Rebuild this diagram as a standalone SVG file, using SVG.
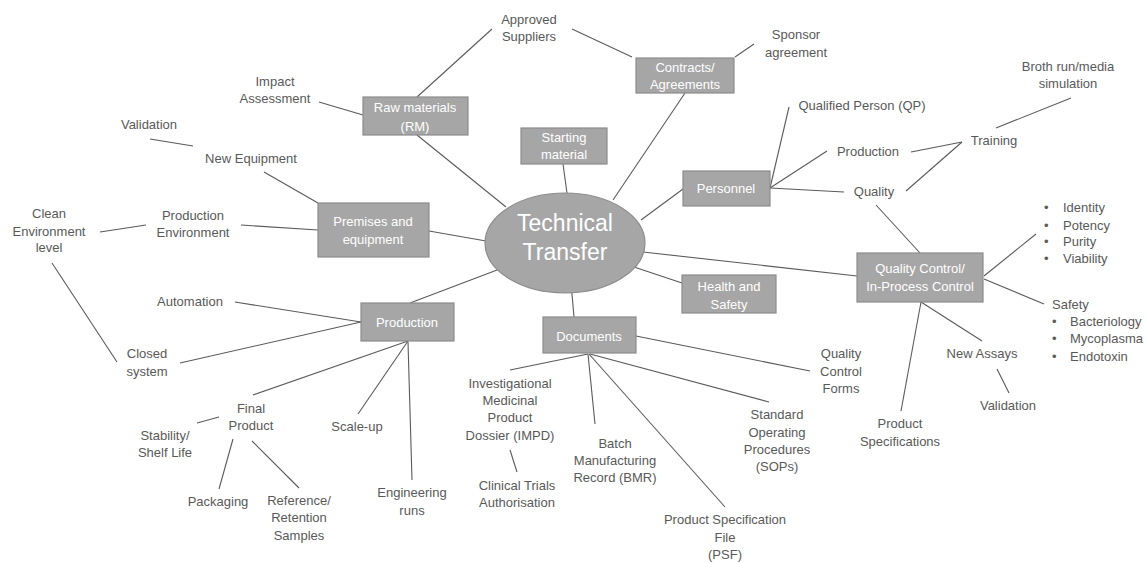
<svg xmlns="http://www.w3.org/2000/svg" width="1146" height="563" viewBox="0 0 1146 563">
<style>
.l{stroke:#5a5a5a;stroke-width:1.1;fill:none}
.b{fill:#a6a6a6;stroke:#8c8c8c;stroke-width:1.2}
.bt{font-family:"Liberation Sans",Arial,sans-serif;font-size:13px;fill:#ffffff;text-anchor:middle}
.t{font-family:"Liberation Sans",Arial,sans-serif;font-size:13px;fill:#595959;text-anchor:middle}
.ts{font-family:"Liberation Sans",Arial,sans-serif;font-size:13px;fill:#595959}
.ct{font-family:"Liberation Sans",Arial,sans-serif;font-size:23px;fill:#ffffff;text-anchor:middle}
</style>
<rect width="1146" height="563" fill="#ffffff"/>
<g id="connectors">
<line class="l" x1="319" y1="102" x2="363" y2="115"/>
<line class="l" x1="150" y1="139" x2="193" y2="146"/>
<line class="l" x1="264" y1="172" x2="318" y2="203"/>
<line class="l" x1="100" y1="232" x2="146" y2="225"/>
<line class="l" x1="241" y1="225" x2="318" y2="230"/>
<line class="l" x1="52" y1="263" x2="117" y2="362"/>
<line class="l" x1="492" y1="29" x2="417" y2="97"/>
<line class="l" x1="572" y1="29" x2="632" y2="57"/>
<line class="l" x1="735" y1="57" x2="754" y2="44"/>
<line class="l" x1="417" y1="135" x2="506" y2="207"/>
<line class="l" x1="563" y1="164" x2="567" y2="193"/>
<line class="l" x1="685" y1="93" x2="613" y2="200"/>
<line class="l" x1="683" y1="189" x2="641" y2="220"/>
<line class="l" x1="429" y1="231" x2="486" y2="241"/>
<line class="l" x1="643" y1="252" x2="857" y2="276"/>
<line class="l" x1="628" y1="265" x2="682" y2="283"/>
<line class="l" x1="505" y1="267" x2="410" y2="303"/>
<line class="l" x1="571" y1="283" x2="574" y2="317"/>
<line class="l" x1="770" y1="188" x2="789" y2="107"/>
<line class="l" x1="770" y1="188" x2="827" y2="151"/>
<line class="l" x1="770" y1="188" x2="844" y2="192"/>
<line class="l" x1="911" y1="152" x2="962" y2="142"/>
<line class="l" x1="906" y1="191" x2="962" y2="142"/>
<line class="l" x1="996" y1="128" x2="1071" y2="98"/>
<line class="l" x1="876" y1="205" x2="920" y2="253"/>
<line class="l" x1="984" y1="276" x2="1036" y2="234"/>
<line class="l" x1="984" y1="279" x2="1044" y2="304"/>
<line class="l" x1="921" y1="302" x2="982" y2="341"/>
<line class="l" x1="921" y1="302" x2="901" y2="411"/>
<line class="l" x1="997" y1="369" x2="1009" y2="393"/>
<line class="l" x1="636" y1="336" x2="810" y2="371"/>
<line class="l" x1="588" y1="354" x2="510" y2="370"/>
<line class="l" x1="588" y1="354" x2="595" y2="424"/>
<line class="l" x1="589" y1="354" x2="725" y2="507"/>
<line class="l" x1="590" y1="354" x2="769" y2="402"/>
<line class="l" x1="510" y1="450" x2="517" y2="472"/>
<line class="l" x1="408" y1="342" x2="412" y2="480"/>
<line class="l" x1="235" y1="302" x2="361" y2="322"/>
<line class="l" x1="180" y1="363" x2="361" y2="322"/>
<line class="l" x1="253" y1="395" x2="408" y2="341"/>
<line class="l" x1="358" y1="414" x2="408" y2="341"/>
<line class="l" x1="197" y1="423" x2="219" y2="417"/>
<line class="l" x1="233" y1="439" x2="219" y2="489"/>
<line class="l" x1="252" y1="441" x2="299" y2="488"/>
</g>
<g id="technical-transfer">
<ellipse cx="565" cy="243" rx="80" ry="50" fill="#a6a6a6" stroke="#8c8c8c" stroke-width="1.2"/>
<text class="ct" x="565" y="231">Technical</text>
<text class="ct" x="565" y="260">Transfer</text>
</g>
<g id="raw-materials">
<rect class="b" x="363" y="97" width="105" height="38"/>
<text class="bt" x="415" y="112">Raw materials</text>
<text class="bt" x="415" y="131">(RM)</text>
</g>
<g id="contracts">
<rect class="b" x="636" y="58" width="98" height="35"/>
<text class="bt" x="685" y="72">Contracts/</text>
<text class="bt" x="685" y="89">Agreements</text>
</g>
<g id="starting-material">
<rect class="b" x="521" y="128" width="86" height="36"/>
<text class="bt" x="564" y="142">Starting</text>
<text class="bt" x="564" y="159">material</text>
</g>
<g id="personnel">
<rect class="b" x="683" y="171" width="87" height="35"/>
<text class="bt" x="726" y="193">Personnel</text>
</g>
<g id="premises">
<rect class="b" x="318" y="203" width="111" height="54"/>
<text class="bt" x="373" y="226">Premises and</text>
<text class="bt" x="373" y="244">equipment</text>
</g>
<g id="health-safety">
<rect class="b" x="682" y="275" width="94" height="38"/>
<text class="bt" x="729" y="291">Health and</text>
<text class="bt" x="729" y="309">Safety</text>
</g>
<g id="production">
<rect class="b" x="361" y="303" width="93" height="38"/>
<text class="bt" x="407" y="327">Production</text>
</g>
<g id="documents">
<rect class="b" x="543" y="317" width="93" height="36"/>
<text class="bt" x="589" y="341">Documents</text>
</g>
<g id="quality-control">
<rect class="b" x="857" y="253" width="126" height="49"/>
<text class="bt" x="920" y="273">Quality Control/</text>
<text class="bt" x="920" y="291">In-Process Control</text>
</g>
<g id="approved-suppliers"><text class="t" x="529" y="24">Approved</text><text class="t" x="529" y="41">Suppliers</text></g>
<g id="sponsor-agreement"><text class="t" x="796" y="39">Sponsor</text><text class="t" x="796" y="57">agreement</text></g>
<g id="impact-assessment"><text class="t" x="275" y="86">Impact</text><text class="t" x="275" y="103">Assessment</text></g>
<g id="validation-equipment"><text class="t" x="149" y="129">Validation</text></g>
<g id="new-equipment"><text class="t" x="251" y="163">New Equipment</text></g>
<g id="clean-environment"><text class="t" x="49" y="218">Clean</text><text class="t" x="49" y="236">Environment</text><text class="t" x="49" y="252">level</text></g>
<g id="production-environment"><text class="t" x="193" y="220">Production</text><text class="t" x="193" y="237">Environment</text></g>
<g id="broth-run"><text class="t" x="1068" y="71">Broth run/media</text><text class="t" x="1068" y="88">simulation</text></g>
<g id="qualified-person"><text class="t" x="862" y="110">Qualified Person (QP)</text></g>
<g id="production-personnel"><text class="t" x="868" y="156">Production</text></g>
<g id="training"><text class="t" x="994" y="145">Training</text></g>
<g id="quality-personnel"><text class="t" x="874" y="196">Quality</text></g>
<g id="identity-list">
<text class="ts" x="1044" y="212">•</text><text class="ts" x="1063" y="212">Identity</text>
<text class="ts" x="1044" y="230">•</text><text class="ts" x="1063" y="230">Potency</text>
<text class="ts" x="1044" y="246">•</text><text class="ts" x="1063" y="246">Purity</text>
<text class="ts" x="1044" y="263">•</text><text class="ts" x="1063" y="263">Viability</text>
</g>
<g id="safety-list">
<text class="ts" x="1052" y="309">Safety</text>
<text class="ts" x="1052" y="326">•</text><text class="ts" x="1070" y="326">Bacteriology</text>
<text class="ts" x="1052" y="343">•</text><text class="ts" x="1070" y="343">Mycoplasma</text>
<text class="ts" x="1052" y="361">•</text><text class="ts" x="1070" y="361">Endotoxin</text>
</g>
<g id="qc-forms"><text class="t" x="841" y="358">Quality</text><text class="t" x="841" y="376">Control</text><text class="t" x="841" y="393">Forms</text></g>
<g id="new-assays"><text class="t" x="982" y="358">New Assays</text></g>
<g id="validation-qc"><text class="t" x="1008" y="410">Validation</text></g>
<g id="product-specifications"><text class="t" x="900" y="428">Product</text><text class="t" x="900" y="446">Specifications</text></g>
<g id="sops"><text class="t" x="777" y="419">Standard</text><text class="t" x="777" y="437">Operating</text><text class="t" x="777" y="454">Procedures</text><text class="t" x="777" y="471">(SOPs)</text></g>
<g id="psf"><text class="t" x="725" y="524">Product Specification</text><text class="t" x="725" y="542">File</text><text class="t" x="725" y="559">(PSF)</text></g>
<g id="bmr"><text class="t" x="615" y="448">Batch</text><text class="t" x="615" y="465">Manufacturing</text><text class="t" x="615" y="482">Record (BMR)</text></g>
<g id="impd"><text class="t" x="510" y="388">Investigational</text><text class="t" x="510" y="405">Medicinal</text><text class="t" x="510" y="422">Product</text><text class="t" x="510" y="440">Dossier (IMPD)</text></g>
<g id="clinical-trials"><text class="t" x="517" y="490">Clinical Trials</text><text class="t" x="517" y="507">Authorisation</text></g>
<g id="engineering-runs"><text class="t" x="412" y="497">Engineering</text><text class="t" x="412" y="515">runs</text></g>
<g id="automation"><text class="t" x="190" y="306">Automation</text></g>
<g id="closed-system"><text class="t" x="147" y="358">Closed</text><text class="t" x="147" y="376">system</text></g>
<g id="final-product"><text class="t" x="251" y="413">Final</text><text class="t" x="251" y="430">Product</text></g>
<g id="stability"><text class="t" x="165" y="440">Stability/</text><text class="t" x="165" y="457">Shelf Life</text></g>
<g id="scale-up"><text class="t" x="357" y="431">Scale-up</text></g>
<g id="packaging"><text class="t" x="218" y="506">Packaging</text></g>
<g id="reference-samples"><text class="t" x="299" y="505">Reference/</text><text class="t" x="299" y="522">Retention</text><text class="t" x="299" y="540">Samples</text></g>
</svg>
